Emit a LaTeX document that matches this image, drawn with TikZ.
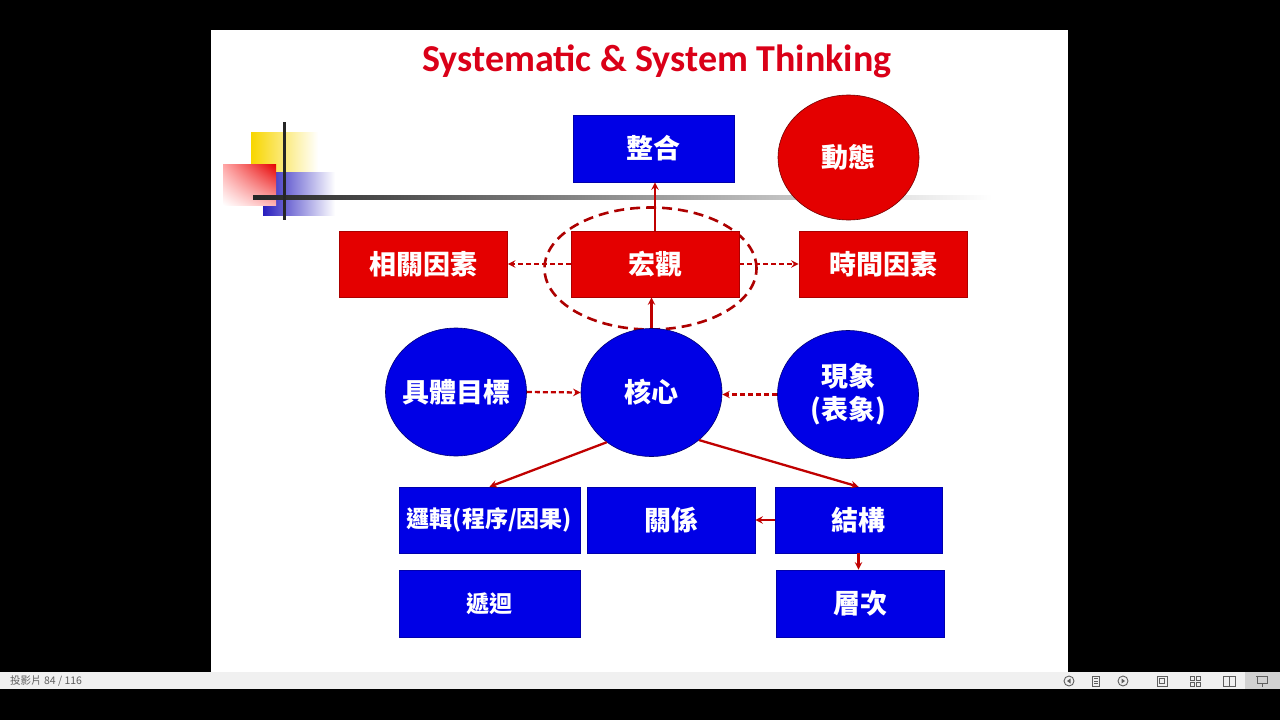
\documentclass[tikz,border=0pt]{standalone}
\usepackage{fontspec}
\setmainfont{Carlito}
\newfontfamily\cjk{Noto Sans CJK TC}
\usetikzlibrary{shapes.geometric,shadings,positioning}
\definecolor{slideblue}{RGB}{0,0,230}
\definecolor{slidered}{RGB}{228,0,0}
\definecolor{arrowred}{RGB}{192,0,0}
\definecolor{titlered}{RGB}{218,0,24}
\definecolor{barbg}{RGB}{240,240,240}
\definecolor{icongray}{RGB}{95,95,95}
\definecolor{ornyellow}{RGB}{248,214,0}
\definecolor{ornblue}{RGB}{40,30,190}
\newcommand{\slim}[1]{\makebox[0pt][c]{#1}}

\begin{document}
\begin{tikzpicture}[x=1pt, y=-1pt, >=stealth,
    bluebox/.style={rectangle, fill=slideblue, draw=slideblue!75!black, line width=0.6pt, text=white,
      minimum width=168pt, minimum height=66pt, inner sep=0pt, font=\cjk\bfseries\fontsize{27}{33}\selectfont},
    redbox/.style={bluebox, fill=slidered, draw=slidered!75!black},
    bluedisc/.style={ellipse, fill=slideblue, draw=slideblue!50!black, line width=0.6pt, text=white,
      minimum width=141pt, minimum height=128pt, inner sep=0pt, align=center,
      font=\cjk\bfseries\fontsize{27}{33}\selectfont},
    reddisc/.style={bluedisc, fill=slidered, draw=slidered!50!black},
    link/.style={->, draw=arrowred, line width=2.3pt},
    dashlink/.style={link, dash pattern=on 5pt off 3pt},
    icon/.style={draw=icongray, line width=0.9pt},
  ]
    % screen and slide
    \fill[black] (0,0) rectangle (1280,720);
    \useasboundingbox (0,0) rectangle (1280,720);
    \fill[white] (211,30) rectangle (1068,672);

    % corner ornament
    \shade[left color=ornyellow, middle color=ornyellow, right color=white] (251,132) rectangle (318,180);
    \shade[left color=ornblue, middle color=ornblue, right color=white] (263,172) rectangle (335,215);
    \shade[upper right=red!90!black, upper left=red!35, lower right=red!30, lower left=white] (223,164) rectangle (276,205);
    \shade[left color=black!85, right color=white] (253,195.5) rectangle (992,199);
    \draw[line width=3pt, black!85] (284,122) -- (284,220);

    % title
    \node[font=\bfseries\fontsize{38}{44}\selectfont, text=titlered] (title) at (657,61) {Systematic \& System Thinking};

    % upper row
    \node[ellipse, draw=arrowred!90!black, line width=2.6pt, dash pattern=on 10pt off 6pt,
      minimum width=212pt, minimum height=122pt] (focus) at (650.5,268.5) {};
    \node[bluebox, minimum width=161pt, minimum height=67pt] (merge) at (653.5,148.5) {整合};
    \node[reddisc, minimum height=125pt] (dynamic) at (848.5,157.5) {\slim{動態}};
    \node[redbox] (factor) at (423.5,264) {相關因素};
    \node[redbox] (macro) at (655,264) {宏觀};
    \node[redbox] (timing) at (883,264) {時間因素};

    % middle row
    \node[bluedisc] (goal) at (456,392) {\slim{具體目標}};
    \node[bluedisc] (core) at (651.5,392.5) {\slim{核心}};
    \node[bluedisc] (phenom) at (848,394.5) {\slim{現象}\\\slim{(表象)}};

    % lower rows
    \node[bluebox, minimum width=181pt, font=\cjk\bfseries\fontsize{23}{27}\selectfont] (logic) at (489.5,520) {邏輯(程序/因果)};
    \node[bluebox] (rel) at (671,520) {關係};
    \node[bluebox, minimum width=167pt] (struct) at (858.5,520) {結構};
    \node[bluebox, minimum width=181pt, minimum height=67pt, font=\cjk\bfseries\fontsize{23}{27}\selectfont] (recur) at (489.5,603.5) {遞迴};
    \node[bluebox, minimum height=67pt] (layer) at (860.5,603.5) {層次};

    % connectors
    \draw[link] (macro.north) -- (macro.north |- merge.south);
    \draw[link] (core.north) -- (core.north |- macro.south);
    \draw[dashlink] (macro.west) -- (factor.east);
    \draw[dashlink] (macro.east) -- (timing.west);
    \draw[dashlink] (goal.east) -- (core.west);
    \draw[dashlink] (phenom.west) -- (phenom.west -| core.east);
    \draw[link] (core.-132) -- (logic.north);
    \draw[link] (core.-45) -- (struct.north);
    \draw[link] (struct.west) -- (rel.east);
    \draw[link] (struct.south) -- (struct.south |- layer.north);

    % status bar
    \fill[barbg] (0,672) rectangle (1280,689);
    \node[anchor=west, inner sep=0pt, text=icongray, font=\cjk\fontsize{10.5}{12}\selectfont] (count) at (10,681) {投影片 84 / 116};
    \fill[black!18] (1245,672) rectangle (1280,689);
    \draw[icon] (1069,681) circle (5);
    \fill[icongray] (1067,681) -- (1070.5,678.5) -- (1070.5,683.5) -- cycle;
    \draw[icon] (1092.5,676) rectangle (1099.5,686);
    \foreach \yy in {678.5,681,683.5} \draw[icongray, line width=0.6pt] (1094,\yy) -- (1098,\yy);
    \draw[icon] (1123,681) circle (5);
    \fill[icongray] (1125,681) -- (1121.5,678.5) -- (1121.5,683.5) -- cycle;
    \draw[icon] (1157,676) rectangle (1167,686);
    \draw[icongray, line width=0.6pt] (1159.5,678.5) rectangle (1164.5,683.5);
    \foreach \xx/\yy in {1190/676,1196/676,1190/682,1196/682} \draw[icon] (\xx,\yy) rectangle +(4,4);
    \draw[icon] (1223,676) rectangle (1235,686) (1229,676) -- (1229,686);
    \draw[icon] (1256,676) -- (1268,676) (1257,676) rectangle (1267,683) (1262,683) -- (1262,687);
\end{tikzpicture}
\end{document}
